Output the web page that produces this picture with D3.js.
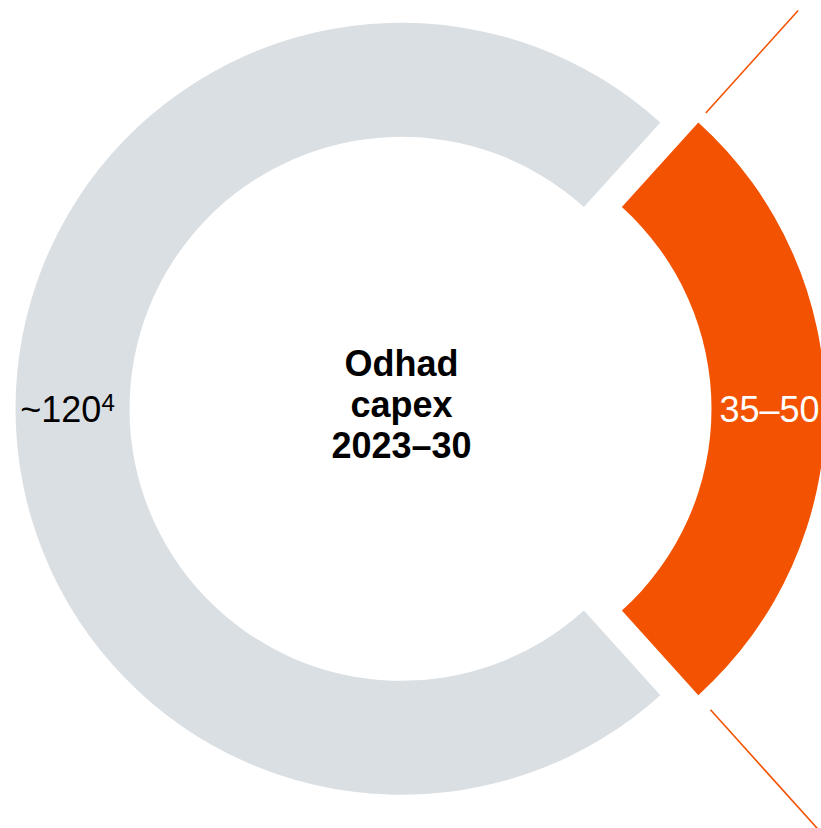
<!DOCTYPE html>
<html><head><meta charset="utf-8">
<script src="https://cdn.jsdelivr.net/npm/d3@7"></script>
<style>html,body{margin:0;padding:0;background:#fff;overflow:hidden}</style>
</head><body>
<svg id="chart" width="821" height="828"></svg>
<script>
// ---- data ----
const segments = ["Odhad capex", "Other"];
const values = [43.5, 120];            // estimated shares
const valueLabels = ["35–50", "~120"];
const labelSups = ["", "4"];
const centerLines = ["Odhad", "capex", "2023–30"];
const colors = ["#F35200", "#DADFE3"];
const calloutLines = [
  {angle: -48, r0: 398, r1: 536},
  {angle: 48, r0: 405, r1: 600}
];

// ---- layout ----
const cx = 401.5, cy = 408.8, rOuter = 386, rInner = 272, explode = 38;
const svg = d3.select("#chart");
const g = svg.append("g").attr("transform", `translate(${cx},${cy})`);

const total = d3.sum(values);
const focusAngle = values[0] / total * 2 * Math.PI;
const pie = d3.pie().sort(null).value(d => d)
  .startAngle(Math.PI / 2 - focusAngle / 2)
  .endAngle(Math.PI / 2 - focusAngle / 2 + 2 * Math.PI);
const arcs = pie(values);
const arc = d3.arc().innerRadius(rInner).outerRadius(rOuter);

function offset(d, i) {
  if (i !== 0) return [0, 0];
  const a = (d.startAngle + d.endAngle) / 2;
  return [Math.sin(a) * explode, -Math.cos(a) * explode];
}

g.selectAll("path.seg").data(arcs).join("path")
  .attr("class", "seg")
  .attr("transform", (d, i) => `translate(${offset(d, i)})`)
  .attr("d", arc)
  .attr("fill", (d, i) => colors[i]);

// callout lines from exploded segment
const off0 = offset(arcs[0], 0);
g.selectAll("line.callout").data(calloutLines).join("line")
  .attr("class", "callout")
  .attr("x1", d => off0[0] + Math.cos(d.angle * Math.PI / 180) * d.r0)
  .attr("y1", d => off0[1] + Math.sin(d.angle * Math.PI / 180) * d.r0)
  .attr("x2", d => off0[0] + Math.cos(d.angle * Math.PI / 180) * d.r1)
  .attr("y2", d => off0[1] + Math.sin(d.angle * Math.PI / 180) * d.r1)
  .attr("stroke", colors[0])
  .attr("stroke-width", 1.6);

// value labels
const labels = g.selectAll("text.val").data(arcs).join("text")
  .attr("class", "val")
  .attr("text-anchor", "middle")
  .attr("font-family", "'Liberation Sans', Arial, sans-serif")
  .attr("font-size", 36)
  .attr("fill", (d, i) => i === 0 ? "#ffffff" : "#000000")
  .attr("x", (d, i) => arc.centroid(d)[0] + offset(d, i)[0] + (i === 1 ? -5 : 1))
  .attr("y", (d, i) => arc.centroid(d)[1] + offset(d, i)[1] + 13);
labels.append("tspan").text((d, i) => valueLabels[i]);
labels.filter((d, i) => labelSups[i] !== "")
  .append("tspan")
  .attr("font-size", 24)
  .attr("dy", -11)
  .text((d, i) => labelSups[1]);

// center text
g.append("text")
  .attr("text-anchor", "middle")
  .attr("font-family", "'Liberation Sans', Arial, sans-serif")
  .attr("font-weight", "bold")
  .attr("font-size", 36)
  .attr("fill", "#000")
  .selectAll("tspan").data(centerLines).join("tspan")
  .attr("x", 0)
  .attr("y", (d, i) => -33 + i * 41)
  .text(d => d);
</script>
</body></html>
